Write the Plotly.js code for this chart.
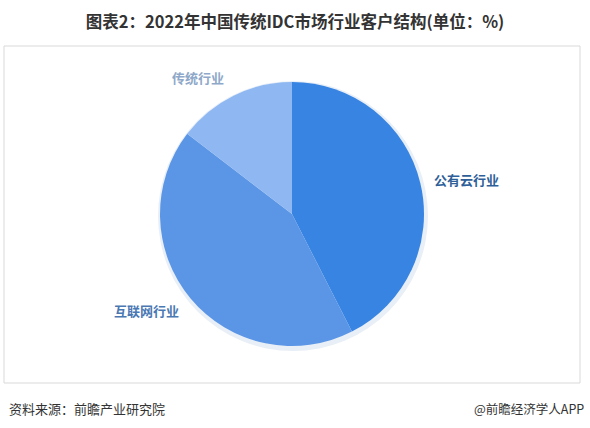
<!DOCTYPE html>
<html>
<head>
<meta charset="utf-8">
<script src="https://cdn.plot.ly/plotly-3.0.1.min.js"></script>
<style>html,body{margin:0;padding:0;background:#fff;}#chart{width:590px;height:428px;}</style>
</head>
<body>
<div id="chart"></div>
<script>
const categories = ['公有云行业', '互联网行业', '传统行业'];
const shares = [42.5, 42.9, 14.6];
const sliceColors = ['#3784e3', '#5b96e6', '#8fb8f2'];
const labelColors = ['#2f5f99', '#4a78b3', '#8ea8c9'];
const chartTitle = '图表2：2022年中国传统IDC市场行业客户结构(单位：%)';
const sourceText = '资料来源：前瞻产业研究院';
const brandText = '@前瞻经济学人APP';

const W = 590, H = 428;
const cx = 292, cy = 214, r = 132;
const dom = (c, rad, tot) => [(c - rad) / tot, (c + rad) / tot];

const shadow = {
  type: 'pie', values: [1], sort: false, hoverinfo: 'skip', textinfo: 'none',
  marker: {colors: ['#e9eff7']},
  domain: {x: dom(cx + 1, r + 3, W), y: dom(H - cy - 2, r + 3, H)},
  showlegend: false
};

const pie = {
  type: 'pie',
  labels: categories,
  values: shares,
  sort: false,
  direction: 'clockwise',
  rotation: 0,
  textinfo: 'none',
  marker: {colors: sliceColors, line: {width: 0}},
  domain: {x: dom(cx, r, W), y: dom(H - cy, r, H)},
  showlegend: false
};

const labelPos = [
  {x: 432, y: 180, anchor: 'left'},
  {x: 181, y: 310, anchor: 'right'},
  {x: 226, y: 78, anchor: 'right'}
];

const annotations = categories.map((c, i) => ({
  text: '<b>' + c + '</b>',
  x: labelPos[i].x / W, y: 1 - labelPos[i].y / H,
  xref: 'paper', yref: 'paper', xanchor: labelPos[i].anchor, yanchor: 'middle',
  showarrow: false,
  font: {family: 'Noto Sans CJK SC, sans-serif', size: 13, color: labelColors[i]}
}));

annotations.push({
  text: sourceText, x: 7 / W, y: 1 - 408 / H, xref: 'paper', yref: 'paper',
  xanchor: 'left', yanchor: 'middle', showarrow: false,
  font: {family: 'Noto Sans CJK SC, sans-serif', size: 13, color: '#333333'}
});
annotations.push({
  text: brandText, x: 586 / W, y: 1 - 408 / H, xref: 'paper', yref: 'paper',
  xanchor: 'right', yanchor: 'middle', showarrow: false,
  font: {family: 'Noto Sans CJK SC, sans-serif', size: 12.5, color: '#333333'}
});

const layout = {
  width: W, height: H,
  margin: {l: 0, r: 0, t: 0, b: 0},
  paper_bgcolor: '#ffffff',
  title: {
    text: '<b>' + chartTitle + '</b>',
    x: 0.5, xanchor: 'center', y: 1 - 22 / H, yanchor: 'middle',
    font: {family: 'Noto Sans CJK SC, sans-serif', size: 16.5, color: '#333333'}
  },
  shapes: [{
    type: 'rect', xref: 'paper', yref: 'paper',
    x0: 4 / W, x1: 580 / W, y0: 1 - 383 / H, y1: 1 - 46 / H,
    line: {color: '#d9d9d9', width: 1}, fillcolor: 'rgba(0,0,0,0)', layer: 'below'
  }],
  annotations: annotations
};

Plotly.newPlot('chart', [shadow, pie], layout, {displayModeBar: false, staticPlot: true});
</script>
</body>
</html>
